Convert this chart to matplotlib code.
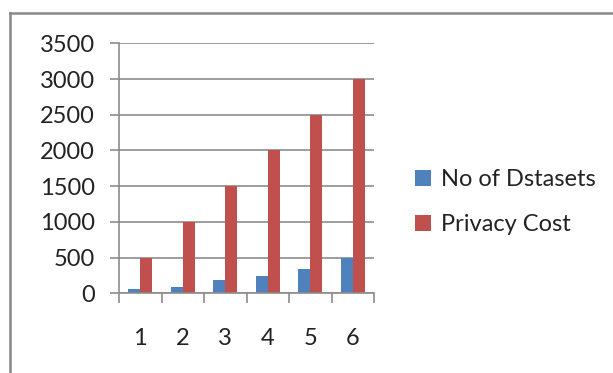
import numpy as np
import matplotlib
matplotlib.use("Agg")
import matplotlib.pyplot as plt
from matplotlib.lines import Line2D

plt.rcParams["font.family"] = ["Lato", "DejaVu Sans"]

# Data
categories = ["1", "2", "3", "4", "5", "6"]
no_of_datasets = [55, 95, 185, 240, 345, 500]
privacy_cost = [500, 1000, 1500, 2000, 2500, 3000]
y_ticks = [0, 500, 1000, 1500, 2000, 2500, 3000, 3500]

blue = "#4F81BD"
red = "#C0504D"
grid_gray = "#8C8C8C"

fig = plt.figure(figsize=(6.13, 3.73), dpi=100)
ax = fig.add_axes([119 / 613, 1 - 293.3 / 373, 255 / 613, 250 / 373])

x = np.arange(1, len(categories) + 1)
w = 0.277
ax.bar(x - w / 2, no_of_datasets, width=w, color=blue, label="No of Dstasets")
ax.bar(x + w / 2, privacy_cost, width=w, color=red, label="Privacy Cost")

ax.set_xlim(0.5, 6.5)
ax.set_ylim(0, 3500)
ax.set_yticks(y_ticks)
ax.yaxis.grid(True, color=grid_gray, linewidth=1.2)
ax.set_axisbelow(True)

# x ticks sit on the category boundaries, labels in the middle
ax.set_xticks(np.arange(0.5, 7, 1))
ax.set_xticklabels([])
ax.set_xticks(x, minor=True)
ax.set_xticklabels(categories, minor=True)
ax.tick_params(axis="x", which="major", direction="out", length=7.2,
               width=1.2, color=grid_gray)
ax.tick_params(axis="x", which="minor", length=0, pad=25, labelsize=17,
               labelcolor="#222222")
ax.tick_params(axis="y", direction="out", length=6.5, width=1.2,
               color=grid_gray, pad=11, labelsize=17, labelcolor="#222222")

for side in ["top", "right"]:
    ax.spines[side].set_visible(False)
for side in ["left", "bottom"]:
    ax.spines[side].set_color(grid_gray)
    ax.spines[side].set_linewidth(1.2)

leg = fig.legend(loc="upper left", bbox_to_anchor=(406 / 613, 1 - 160 / 373),
                 frameon=False, fontsize=17, handlelength=0.65,
                 handleheight=0.65, handletextpad=0.45, labelspacing=1.0,
                 borderaxespad=0)
for t in leg.get_texts():
    t.set_color("#222222")

# chart area border (only top and left visible in the crop)
fig.add_artist(Line2D([10 / 613, 1.0], [1 - 13 / 373, 1 - 13 / 373],
                      color="#888888", linewidth=1.8, transform=fig.transFigure))
fig.add_artist(Line2D([10 / 613, 10 / 613], [0, 1 - 13 / 373],
                      color="#888888", linewidth=1.8, transform=fig.transFigure))

fig.savefig("out.png", dpi=100)
